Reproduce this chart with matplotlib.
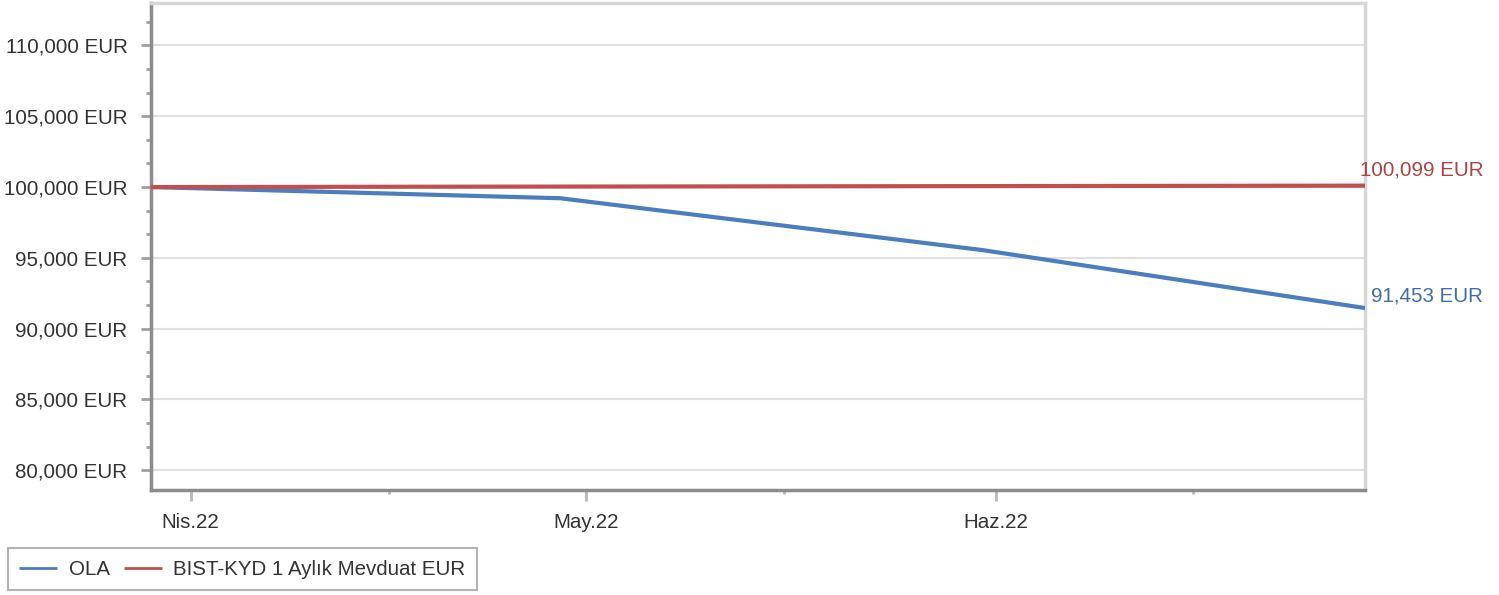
import matplotlib
matplotlib.use("Agg")
import matplotlib.pyplot as plt
from matplotlib.ticker import FuncFormatter, MultipleLocator
import datetime as dt

dates = ["2022-03-29", "2022-04-29", "2022-05-31", "2022-06-29"]
ola = [100000, 99209, 95548, 91453]
bist = [100000, 100033, 100066, 100099]
series_names = ["OLA", "BIST-KYD 1 Aylık Mevduat EUR"]
month_labels = ["Nis.22", "May.22", "Haz.22"]
month_starts = ["2022-04-01", "2022-05-01", "2022-06-01"]
mid_months = ["2022-04-16", "2022-05-16", "2022-06-16"]

blue = "#4a7ebf"
red = "#c0504d"
blue_txt = "#3f6ea8"
red_txt = "#a94442"
FS = 14.8

plt.rcParams['font.family'] = ['Liberation Sans', 'DejaVu Sans']
fig = plt.figure(figsize=(14.99, 5.95), dpi=100)
ax = fig.add_axes([151/1499, 1 - 490/595, (1365-151)/1499, (490-3)/595])

x = [dt.datetime.strptime(d, "%Y-%m-%d") for d in dates]
l1, = ax.plot(x, ola, color=blue, lw=3, solid_capstyle='butt', zorder=3)
l2, = ax.plot(x, bist, color=red, lw=3, solid_capstyle='butt', zorder=4)

ax.set_xlim(x[0], x[-1])
ax.set_ylim(78600, 113000)

ax.yaxis.set_major_locator(MultipleLocator(5000))
ax.yaxis.set_minor_locator(MultipleLocator(5000/3))
ax.yaxis.set_major_formatter(FuncFormatter(lambda v, p: f"{v:,.0f} EUR"))
ax.grid(axis='y', which='major', color='#e0e0e0', lw=1.5, zorder=0)

xt = [dt.datetime.strptime(d, "%Y-%m-%d") for d in month_starts]
xm = [dt.datetime.strptime(d, "%Y-%m-%d") for d in mid_months]
ax.set_xticks(xt)
ax.set_xticklabels(month_labels)
ax.set_xticks(xm, minor=True)

ax.tick_params(axis='y', which='major', length=7, width=2, color='#a0a0a0',
               labelsize=FS, labelcolor='#333333', pad=10)
ax.tick_params(axis='y', which='minor', length=3.5, width=2, color='#a0a0a0')
ax.tick_params(axis='x', which='major', length=8, width=2, color='#b8b8b8',
               labelsize=FS, labelcolor='#333333', pad=8.5)
ax.tick_params(axis='x', which='minor', length=3, width=2, color='#b8b8b8')

for s in ['left', 'bottom']:
    ax.spines[s].set_color('#8c8c8c')
    ax.spines[s].set_linewidth(2.5)
for s in ['top', 'right']:
    ax.spines[s].set_color('#d6d6d6')
    ax.spines[s].set_linewidth(2.5)

ax.annotate(f"{bist[-1]:,} EUR", xy=(x[-1], bist[-1]), xytext=(118, 16),
            textcoords='offset pixels', ha='right', va='center',
            color=red_txt, fontsize=FS, annotation_clip=False)
ax.annotate(f"{ola[-1]:,} EUR", xy=(x[-1], ola[-1]), xytext=(118, 12),
            textcoords='offset pixels', ha='right', va='center',
            color=blue_txt, fontsize=FS, annotation_clip=False)

leg = fig.legend([l1, l2], series_names, loc='lower left',
                 bbox_to_anchor=(8/1499, 1 - 590/595), borderaxespad=0,
                 ncol=2, frameon=True,
                 fancybox=False, fontsize=FS, handlelength=1.85, handletextpad=0.55,
                 columnspacing=0.7, borderpad=0.55, labelcolor='#333333')
leg.get_frame().set_edgecolor('#a0a0a0')
leg.get_frame().set_linewidth(1.5)
for h in leg.legend_handles:
    h.set_linewidth(2)

fig.savefig("out.png", dpi=100)
